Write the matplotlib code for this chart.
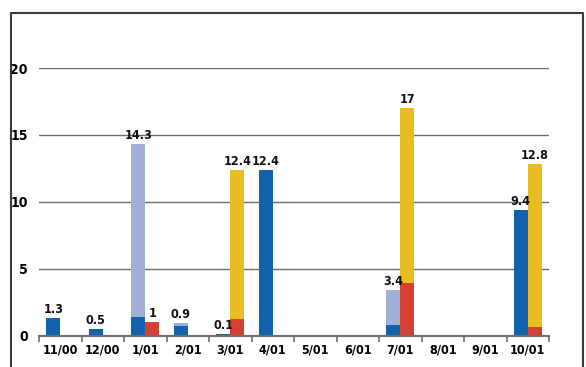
import numpy as np
import matplotlib
matplotlib.use("Agg")
import matplotlib.pyplot as plt
from matplotlib.lines import Line2D
from matplotlib.ticker import FixedLocator, NullFormatter

plt.rcParams['font.family'] = ['DejaVu Sans']
plt.rcParams['font.stretch'] = 'condensed'
plt.rcParams['font.weight'] = 'bold'

months = ["11/00", "12/00", "1/01", "2/01", "3/01", "4/01",
          "5/01", "6/01", "7/01", "8/01", "9/01", "10/01"]

# left column: dark-blue base, light-blue on top; total is the printed value
left_total = [1.3, 0.5, 14.3, 0.9, 0.1, 12.4, None, None, 3.4, None, None, 9.4]
left_base = [1.3, 0.5, 1.4, 0.7, 0.1, 12.4, 0, 0, 0.75, 0, 0, 9.4]

# right column: red base, yellow on top; total is the printed value
right_total = [None, None, 1, None, 12.4, None, None, None, 17, None, None, 12.8]
right_base = [0, 0, 1, 0, 1.2, 0, 0, 0, 3.9, 0, 0, 0.6]

C_BLUE = "#1262ad"
C_LIGHT = "#a1b0d6"
C_RED = "#d54033"
C_YELLOW = "#e8bd22"
C_GRID = "#6e6e6e"

fig = plt.figure(figsize=(5.86, 3.67), dpi=100)
ax = fig.add_axes([39 / 586, (367 - 335.5) / 367, 510 / 586, 267.5 / 367])

x = np.arange(len(months))
w = 0.33

def tot(v):
    return 0 if v is None else v

lt = np.array([tot(v) for v in left_total])
lb = np.array(left_base)
rt = np.array([tot(v) for v in right_total])
rb = np.array(right_base)

ax.bar(x - w / 2, lb, w, color=C_BLUE, zorder=3)
ax.bar(x - w / 2, lt - lb, w, bottom=lb, color=C_LIGHT, zorder=3)
ax.bar(x + w / 2, rb, w, color=C_RED, zorder=3)
ax.bar(x + w / 2, rt - rb, w, bottom=rb, color=C_YELLOW, zorder=3)

lab_kw = dict(ha="center", va="bottom", fontsize=9, fontweight="bold", color="#111111")
for i in range(len(months)):
    if left_total[i] is not None:
        ax.text(x[i] - w / 2, left_total[i] + 0.15, f"{left_total[i]:g}", **lab_kw)
    if right_total[i] is not None:
        ax.text(x[i] + w / 2, right_total[i] + 0.15, f"{right_total[i]:g}", **lab_kw)

ax.set_xlim(-0.5, len(months) - 0.5)
ax.set_ylim(0, 20)

ax.set_yticks([0, 5, 10, 15, 20])
ax.set_yticklabels(["0", "5", "10", "15", "20"], fontsize=10, fontweight="bold")
ax.tick_params(axis="y", length=0, pad=8)
ax.yaxis.grid(True, color=C_GRID, lw=1.0, zorder=1)
ax.set_axisbelow(True)

ax.set_xticks(x)
ax.set_xticklabels(months, fontsize=9, fontweight="bold")
ax.xaxis.set_minor_locator(FixedLocator(np.arange(-0.5, len(months), 1.0)))
ax.xaxis.set_minor_formatter(NullFormatter())
ax.tick_params(axis="x", which="major", length=0, pad=6)
ax.tick_params(axis="x", which="minor", length=4, width=1.2, color=C_GRID, direction="out")

for s in ("top", "right", "left"):
    ax.spines[s].set_visible(False)
ax.spines["bottom"].set_color(C_GRID)
ax.spines["bottom"].set_linewidth(1.5)
ax.spines["bottom"].set_zorder(4)

# outer frame, open at the bottom
fx0, fx1 = 11 / 586, 583 / 586
fy1 = 1 - 13 / 367
fig.add_artist(Line2D([fx0, fx0, fx1, fx1], [0, fy1, fy1, 0],
                      transform=fig.transFigure, color="#3a3a3a", lw=1.5))

fig.savefig("out.png", dpi=100)
